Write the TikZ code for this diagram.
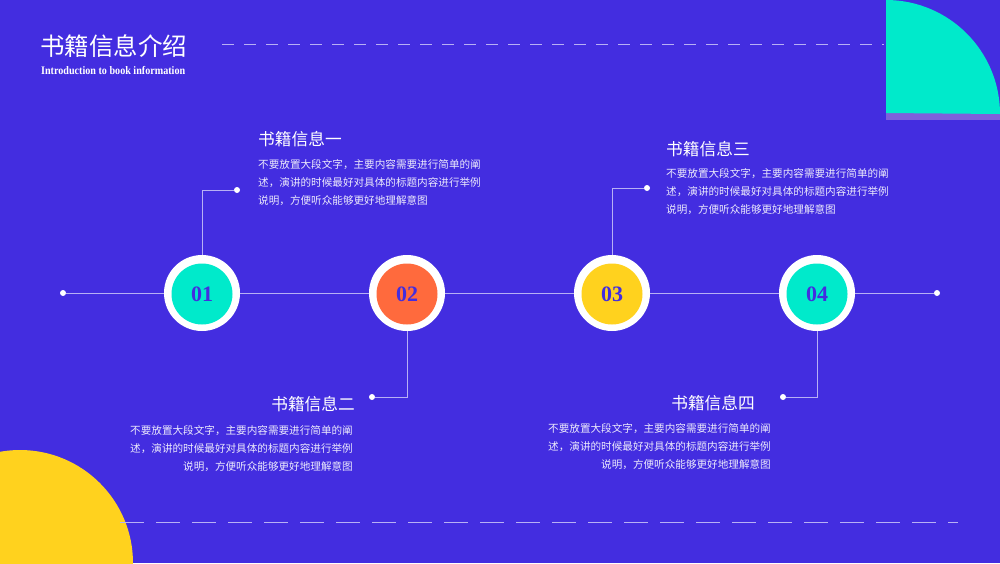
\documentclass[tikz,border=0pt]{standalone}
\usepackage{fontspec}
\newfontfamily\cjk{Noto Sans CJK SC}
\newfontfamily\ser{Liberation Serif}
\definecolor{bg}{HTML}{432DE0}
\definecolor{teal}{HTML}{00EACB}
\definecolor{org}{HTML}{FF6A3D}
\definecolor{yel}{HTML}{FFD21E}
\definecolor{strip}{HTML}{7F5FDB}
\definecolor{lin}{HTML}{B8B0F5}
\begin{document}
\begin{tikzpicture}[x=1pt,y=-1pt,
  ring/.style={circle,fill=white,minimum size=76pt,inner sep=0},
  core/.style={circle,minimum size=61pt,inner sep=0,text=bg,font=\ser\bfseries\fontsize{22}{22}\selectfont},
  conn/.style={draw=lin,line width=0.8pt},
  dot/.style={circle,fill=white,minimum size=6pt,inner sep=0},
  ttl/.style={text=white,font=\cjk\fontsize{16.7}{17}\selectfont,inner sep=0},
  body/.style={text=white!90!bg,font=\cjk\fontsize{10.6}{18.3}\selectfont,inner sep=0}]
\fill[bg] (0,0) rectangle (1000,563);
\useasboundingbox (0,0) rectangle (1000,563);
% decorations
\fill[strip] (886,112) rectangle (1000,120);
\fill[teal] (886,113) -- (886,0) arc[start angle=-90,end angle=0,radius=114] -- cycle;
\fill[yel] (20,563) circle[radius=113];
\draw[lin,line width=0.8pt,dash pattern=on 12pt off 10pt] (222,44) -- (884,44);
\draw[lin,line width=0.8pt,dash pattern=on 24pt off 12pt] (120,522) -- (958,522);
% title
\node[anchor=west,text=white,font=\cjk\fontsize{24.5}{25}\selectfont,inner sep=0] (t) at (40,46) {书籍信息介绍};
\node[anchor=west,text=white,font=\ser\bfseries\fontsize{11.5}{12}\selectfont,inner sep=0,xscale=0.88] (st) at (41,71) {Introduction to book information};
% timeline
\node[dot] (L) at (63,293) {};
\node[dot] (R) at (937,293) {};
\draw[conn] (L) -- (R);
\foreach \n/\x/\c in {1/202/teal,2/407/org,3/612/yel,4/817/teal}{
  \node[ring] (r\n) at (\x,293) {};
  \node[core,fill=\c] (c\n) at (\x,294) {0\n};
}
% connectors
\node[dot] (d1) at (237,190) {};
\node[dot] (d2) at (372,397) {};
\node[dot] (d3) at (647,188) {};
\node[dot] (d4) at (783,397) {};
\draw[conn] (r1.north) |- (d1);
\draw[conn] (r2.south) |- (d2);
\draw[conn] (r3.north) |- (d3);
\draw[conn] (r4.south) |- (d4);
% texts
\node[ttl,anchor=west] (h1) at (258,139) {书籍信息一};
\node[body,anchor=north west,align=left] (b1) at (258,159) {不要放置大段文字，主要内容需要进行简单的阐\\述，演讲的时候最好对具体的标题内容进行举例\\说明，方便听众能够更好地理解意图};
\node[ttl,anchor=east] (h2) at (355,404) {书籍信息二};
\node[body,anchor=north east,align=right] (b2) at (353,425) {不要放置大段文字，主要内容需要进行简单的阐\\述，演讲的时候最好对具体的标题内容进行举例\\说明，方便听众能够更好地理解意图};
\node[ttl,anchor=west] (h3) at (666,149) {书籍信息三};
\node[body,anchor=north west,align=left] (b3) at (666,168) {不要放置大段文字，主要内容需要进行简单的阐\\述，演讲的时候最好对具体的标题内容进行举例\\说明，方便听众能够更好地理解意图};
\node[ttl,anchor=east] (h4) at (755,403) {书籍信息四};
\node[body,anchor=north east,align=right] (b4) at (771,423) {不要放置大段文字，主要内容需要进行简单的阐\\述，演讲的时候最好对具体的标题内容进行举例\\说明，方便听众能够更好地理解意图};
\end{tikzpicture}
\end{document}
